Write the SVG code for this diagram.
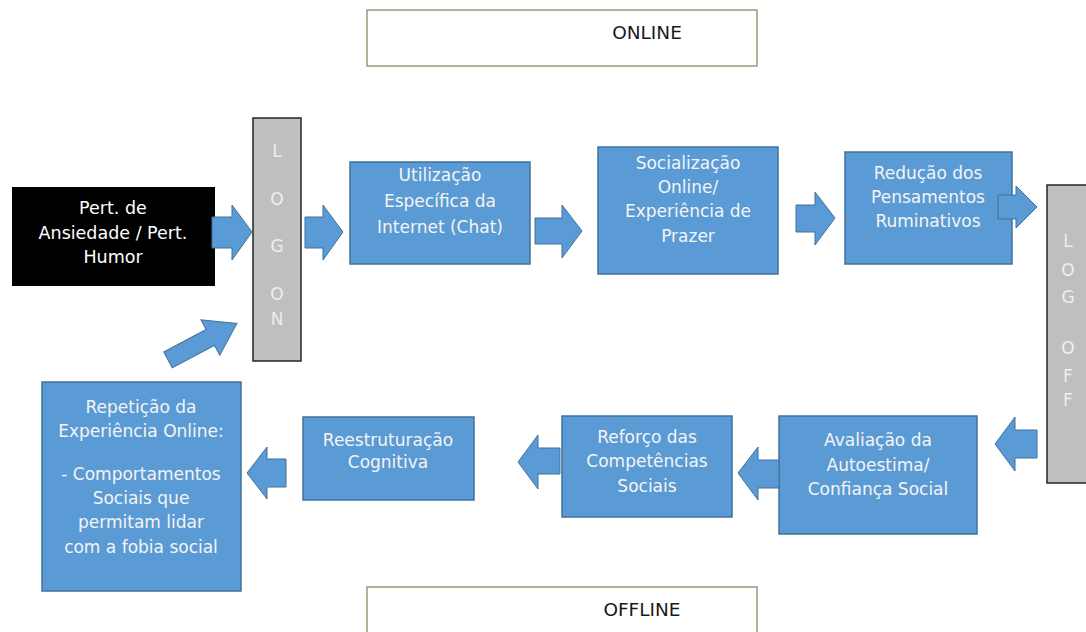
<svg xmlns="http://www.w3.org/2000/svg" width="1086" height="632" viewBox="0 0 1086 632">
<style>
.b{fill:#5B9BD5;stroke:#41719C;stroke-width:1.5}
.a{fill:#5B9BD5;stroke:#41719C;stroke-width:1}
.g{fill:#BFBFBF;stroke:#262626;stroke-width:1.5}
.z{fill:#FFFFFF;stroke:#8E9E76;stroke-width:1.5}
.t{font-family:"DejaVu Sans",sans-serif;font-size:17px;fill:#F4F4F4;text-anchor:middle}
.w{font-family:"DejaVu Sans",sans-serif;font-size:17.5px;fill:#FFFFFF;text-anchor:middle}
.l{font-family:"DejaVu Sans",sans-serif;font-size:17px;fill:#EEEEEE;text-anchor:middle}
.k{font-family:"DejaVu Sans",sans-serif;font-size:18.5px;fill:#1A1A1A;text-anchor:middle}
</style>
<rect width="1086" height="632" fill="#FFFFFF"/>
<g id="online"><rect class="z" x="367" y="10" width="390" height="56"/><text class="k" x="647" y="39">ONLINE</text></g>
<g id="offline"><rect class="z" x="367" y="587" width="390" height="60"/><text class="k" x="642" y="616">OFFLINE</text></g>
<g id="pert"><rect x="12" y="187" width="203" height="99" fill="#000000"/>
<text class="w" x="113" y="214">Pert. de</text><text class="w" x="113" y="239">Ansiedade / Pert.</text><text class="w" x="113" y="263">Humor</text></g>
<g id="logon"><rect class="g" x="253" y="118" width="48" height="243"/>
<text class="l" x="277" y="157">L</text><text class="l" x="277" y="205">O</text><text class="l" x="277" y="252">G</text><text class="l" x="277" y="300">O</text><text class="l" x="277" y="325">N</text></g>
<g id="logoff"><rect class="g" x="1047" y="185" width="48" height="298"/>
<text class="l" x="1068" y="247">L</text><text class="l" x="1068" y="276">O</text><text class="l" x="1068" y="303">G</text><text class="l" x="1068" y="354">O</text><text class="l" x="1068" y="382">F</text><text class="l" x="1068" y="406">F</text></g>
<g id="utilizacao"><rect class="b" x="350" y="162" width="180" height="102"/>
<text class="t" x="440" y="181">Utilização</text><text class="t" x="440" y="207">Específica da</text><text class="t" x="440" y="233">Internet (Chat)</text></g>
<g id="socializacao"><rect class="b" x="598" y="147" width="180" height="127"/>
<text class="t" x="688" y="169">Socialização</text><text class="t" x="688" y="193">Online/</text><text class="t" x="688" y="217">Experiência de</text><text class="t" x="688" y="242">Prazer</text></g>
<g id="reducao"><rect class="b" x="845" y="152" width="167" height="112"/>
<text class="t" x="928" y="179">Redução dos</text><text class="t" x="928" y="203">Pensamentos</text><text class="t" x="928" y="227">Ruminativos</text></g>
<g id="avaliacao"><rect class="b" x="779" y="416" width="198" height="118"/>
<text class="t" x="878" y="446">Avaliação da</text><text class="t" x="878" y="471">Autoestima/</text><text class="t" x="878" y="495">Confiança Social</text></g>
<g id="reforco"><rect class="b" x="562" y="416" width="170" height="101"/>
<text class="t" x="647" y="443">Reforço das</text><text class="t" x="647" y="467">Competências</text><text class="t" x="647" y="492">Sociais</text></g>
<g id="reestruturacao"><rect class="b" x="303" y="417" width="171" height="83"/>
<text class="t" x="388" y="446">Reestruturação</text><text class="t" x="388" y="468">Cognitiva</text></g>
<g id="repeticao"><rect class="b" x="42" y="382" width="199" height="209"/>
<text class="t" x="141" y="413">Repetição da</text><text class="t" x="141" y="437">Experiência Online:</text>
<text class="t" x="141" y="480">- Comportamentos</text><text class="t" x="141" y="504">Sociais que</text><text class="t" x="141" y="528">permitam lidar</text><text class="t" x="141" y="553">com a fobia social</text></g>
<g id="connectors">
<polygon class="a" points="212,217 232,217 232,205 252,232 232,260 232,248 212,248"/>
<polygon class="a" points="305,217 323,217 323,205 343,232 323,260 323,248 305,248"/>
<polygon class="a" points="535,218 562,218 562,205 582,231 562,258 562,244 535,244"/>
<polygon class="a" points="796,205 815,205 815,192 835,218 815,245 815,232 796,232"/>
<polygon class="a" points="998,195 1016,195 1016,186 1037,207 1016,228 1016,219 998,219"/>
<polygon class="a" points="1037,430 1015,430 1015,417 995,444 1015,471 1015,458 1037,458"/>
<polygon class="a" points="779,460 758,460 758,447 738,473 758,500 758,488 779,488"/>
<polygon class="a" points="560,448 538,448 538,435 518,462 538,489 538,474 560,474"/>
<polygon class="a" points="286,459 267,459 267,447 247,473 267,499 267,487 286,487"/>
<polygon class="a" points="0,-9 48,-9 48,-20 78,0 48,20 48,9 0,9" transform="translate(168,360) rotate(-28)"/>
</g>
</svg>
